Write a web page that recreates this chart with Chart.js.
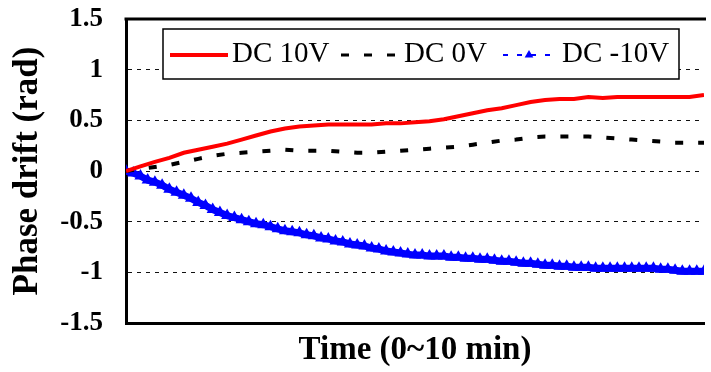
<!DOCTYPE html>
<html>
<head>
<meta charset="utf-8">
<script src="https://cdn.jsdelivr.net/npm/chart.js@4/dist/chart.umd.min.js"></script>
<style>
  html, body { margin: 0; padding: 0; background: #ffffff; overflow: hidden; }
  canvas { display: block; }
</style>
</head>
<body>
<canvas id="c" width="711" height="372"></canvas>
<script>
// ---- data ----
const times = [0,0.25,0.5,0.75,1,1.25,1.5,1.75,2,2.25,2.5,2.75,3,3.25,3.5,3.75,4,4.25,4.5,4.75,5,
               5.25,5.5,5.75,6,6.25,6.5,6.75,7,7.25,7.5,7.75,8,8.25,8.5,8.75,9,9.25,9.5,9.75,10];
const dc10V = [0,0.045,0.09,0.13,0.18,0.21,0.24,0.27,0.31,0.35,0.39,0.42,0.44,0.45,0.46,0.46,0.46,0.46,0.47,0.47,0.48,
               0.49,0.51,0.54,0.57,0.60,0.62,0.65,0.68,0.70,0.71,0.71,0.73,0.72,0.73,0.73,0.73,0.73,0.73,0.73,0.75];
const dc0V  = [0,0.02,0.04,0.06,0.09,0.12,0.15,0.17,0.18,0.19,0.20,0.21,0.20,0.20,0.20,0.19,0.18,0.18,0.19,0.20,0.21,
               0.22,0.23,0.24,0.26,0.28,0.30,0.31,0.33,0.34,0.34,0.34,0.34,0.33,0.32,0.31,0.30,0.29,0.28,0.28,0.28];
const timesNeg = [0,0.125,0.25,0.375,0.5,0.625,0.75,0.875,1,1.125,1.25,1.375,1.5,1.625,1.75,1.875,2,2.125,2.25,2.375,
                  2.5,2.625,2.75,2.875,3,3.125,3.25,3.375,3.5,3.625,3.75,3.875,4,4.125,4.25,4.375,4.5,4.625,4.75,4.875,
                  5,5.125,5.25,5.375,5.5,5.625,5.75,5.875,6,6.125,6.25,6.375,6.5,6.625,6.75,6.875,7,7.125,7.25,7.375,
                  7.5,7.625,7.75,7.875,8,8.125,8.25,8.375,8.5,8.625,8.75,8.875,9,9.125,9.25,9.375,9.5,9.625,9.75,9.875,10];
const dcNeg10V = [0,-0.02,-0.05,-0.09,-0.11,-0.14,-0.18,-0.21,-0.24,-0.27,-0.31,-0.34,-0.38,-0.41,-0.44,-0.46,-0.48,-0.50,-0.52,-0.53,
                  -0.55,-0.57,-0.59,-0.60,-0.61,-0.63,-0.64,-0.66,-0.67,-0.69,-0.70,-0.72,-0.73,-0.74,-0.76,-0.77,-0.79,-0.80,-0.81,-0.82,
                  -0.83,-0.83,-0.84,-0.84,-0.84,-0.85,-0.85,-0.86,-0.86,-0.87,-0.87,-0.88,-0.89,-0.89,-0.90,-0.91,-0.91,-0.92,-0.93,-0.93,
                  -0.94,-0.94,-0.95,-0.95,-0.95,-0.96,-0.96,-0.96,-0.96,-0.96,-0.96,-0.96,-0.96,-0.96,-0.97,-0.97,-0.98,-0.99,-0.99,-0.99,-0.99];
const seriesLabels = ['DC 10V', 'DC 0V', 'DC -10V'];
const yTickValues = [-1.5, -1, -0.5, 0, 0.5, 1, 1.5];
const yTickLabels = ['-1.5', '-1', '-0.5', '0', '0.5', '1', '1.5'];
const xTitle = 'Time (0~10 min)';
const yTitle = 'Phase drift (rad)';

const SERIF = '"Liberation Serif", "Times New Roman", serif';

const toXY = (xs, ys) => xs.map((x, i) => ({ x: x, y: ys[i] }));

// custom boxed legend drawn on top of the plot
const boxLegend = {
  id: 'boxLegend',
  afterDraw(chart) {
    const ctx = chart.ctx;
    const ds = chart.data.datasets;
    ctx.save();
    ctx.fillStyle = '#ffffff';
    ctx.fillRect(163, 29, 516, 50);
    ctx.strokeStyle = '#000000';
    ctx.lineWidth = 1.5;
    ctx.strokeRect(163, 29, 516, 50);
    const cy = 55;
    ctx.font = '29px ' + SERIF;
    ctx.textBaseline = 'middle';
    ctx.textAlign = 'left';
    ctx.fillStyle = '#000000';
    // red
    ctx.beginPath();
    ctx.strokeStyle = ds[0].borderColor;
    ctx.lineWidth = 4;
    ctx.setLineDash([]);
    ctx.moveTo(170, cy); ctx.lineTo(228, cy);
    ctx.stroke();
    ctx.fillText(ds[0].label, 232, cy - 1);
    // black dashed
    ctx.beginPath();
    ctx.strokeStyle = ds[1].borderColor;
    ctx.lineWidth = 3;
    ctx.setLineDash([8, 15]);
    ctx.moveTo(341, cy); ctx.lineTo(396, cy);
    ctx.stroke();
    ctx.setLineDash([]);
    ctx.fillText(ds[1].label, 404, cy - 1);
    // blue dashed with triangle
    ctx.beginPath();
    ctx.strokeStyle = ds[2].borderColor;
    ctx.lineWidth = 2;
    ctx.setLineDash([5, 9]);
    ctx.moveTo(503, cy); ctx.lineTo(556, cy);
    ctx.stroke();
    ctx.setLineDash([]);
    ctx.beginPath();
    ctx.fillStyle = ds[2].borderColor;
    const r = 5;
    ctx.moveTo(529, cy - r);
    ctx.lineTo(529 + r * 0.866, cy + r / 2);
    ctx.lineTo(529 - r * 0.866, cy + r / 2);
    ctx.closePath();
    ctx.fill();
    ctx.fillStyle = '#000000';
    ctx.fillText(ds[2].label, 562, cy - 1);
    ctx.restore();
  }
};

// top frame line
const topFrame = {
  id: 'topFrame',
  afterDatasetsDraw(chart) {
    const { ctx, chartArea } = chart;
    ctx.save();
    ctx.strokeStyle = '#000000';
    ctx.lineWidth = 3;
    ctx.beginPath();
    ctx.moveTo(chartArea.left - 1.5, chartArea.top);
    ctx.lineTo(chartArea.right + 2, chartArea.top);
    ctx.stroke();
    ctx.restore();
  }
};

new Chart(document.getElementById('c'), {
  type: 'line',
  data: {
    datasets: [
      {
        label: seriesLabels[0],
        data: toXY(times, dc10V),
        borderColor: '#ff0000',
        backgroundColor: '#ff0000',
        borderWidth: 4,
        pointRadius: 0,
        tension: 0,
        order: 1
      },
      {
        label: seriesLabels[1],
        data: toXY(times, dc0V),
        borderColor: '#000000',
        backgroundColor: '#000000',
        borderWidth: 4,
        borderDash: [8, 15],
        borderCapStyle: 'butt',
        pointRadius: 0,
        tension: 0,
        order: 2
      },
      {
        label: seriesLabels[2],
        data: toXY(timesNeg, dcNeg10V),
        borderColor: '#0000ff',
        backgroundColor: '#0000ff',
        borderWidth: 7,
        pointStyle: 'triangle',
        pointRadius: 7,
        pointBorderWidth: 0,
        pointBackgroundColor: '#0000ff',
        tension: 0,
        order: 3
      }
    ]
  },
  options: {
    responsive: false,
    animation: false,
    devicePixelRatio: 1,
    layout: { padding: { top: 19, right: 0, bottom: 0, left: 0 } },
    plugins: {
      legend: { display: false },
      tooltip: { enabled: false }
    },
    scales: {
      x: {
        type: 'linear',
        min: 0,
        max: 10,
        afterFit(scale) { scale.height = 49; scale.paddingLeft = 0; scale.paddingRight = 0; },
        grid: { display: false, drawTicks: false },
        border: { display: true, color: '#000000', width: 3 },
        ticks: { display: false },
        title: {
          display: true,
          text: xTitle,
          color: '#000000',
          font: { family: SERIF, size: 33, weight: 'bold' },
          padding: { top: 0, bottom: 2 }
        }
      },
      y: {
        min: -1.5,
        max: 1.5,
        afterFit(scale) { scale.width = 126; scale.paddingTop = 0; scale.paddingBottom = 0; },
        afterBuildTicks(scale) { scale.ticks = yTickValues.map(v => ({ value: v })); },
        grid: {
          drawTicks: false,
          lineWidth: 1,
          color: (c) => (c.tick && Math.abs(c.tick.value) === 1.5) ? 'rgba(0,0,0,0)' : '#111111'
        },
        border: { display: true, color: '#000000', width: 3, dash: [4, 5] },
        ticks: {
          padding: 23,
          color: '#000000',
          font: { family: SERIF, size: 27, weight: 'bold' },
          callback: (v) => {
            const i = yTickValues.indexOf(v);
            return i >= 0 ? yTickLabels[i] : '';
          }
        },
        title: {
          display: true,
          text: yTitle,
          color: '#000000',
          font: { family: SERIF, size: 35, weight: 'bold' },
          padding: { top: 7, bottom: 0 }
        }
      }
    }
  },
  plugins: [topFrame, boxLegend]
});
</script>
</body>
</html>
